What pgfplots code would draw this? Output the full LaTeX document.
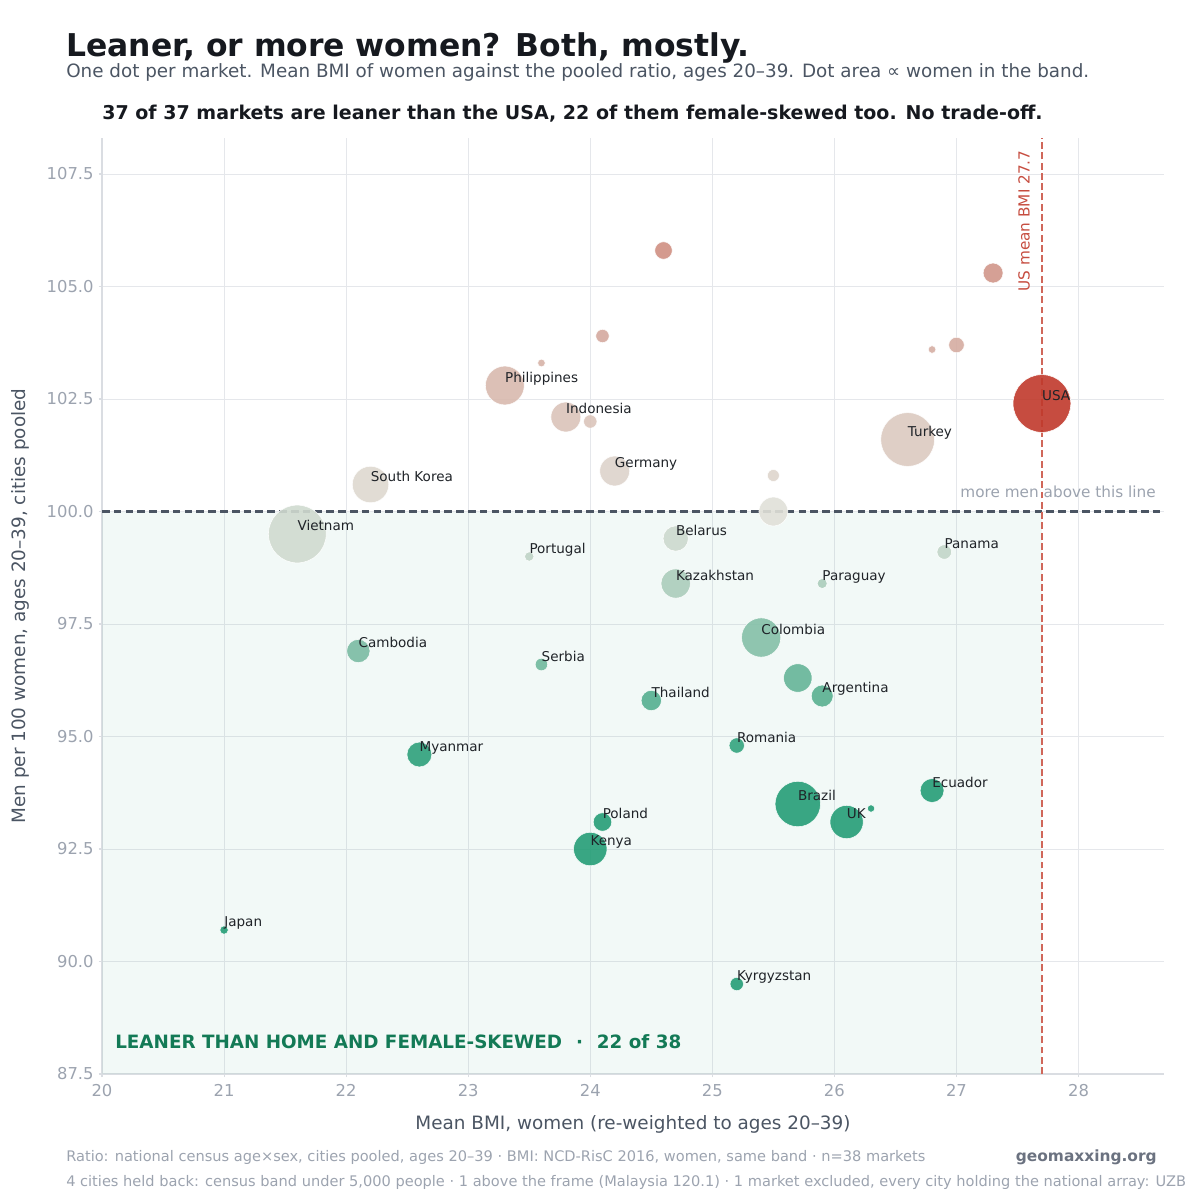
\documentclass[border=0pt]{standalone}
\usepackage{pgfplots}
\pgfplotsset{compat=1.18}
\usepackage{pgfplotstable}
\usepackage{fontspec}
\setmainfont{DejaVu Sans}

\definecolor{ink}{HTML}{16191F}
\definecolor{slate}{HTML}{4B5563}
\definecolor{muted}{HTML}{9CA3AF}
\definecolor{footbold}{HTML}{6B7280}
\definecolor{gridc}{HTML}{E5E7EB}
\definecolor{spine}{HTML}{DADDE2}
\definecolor{lbl}{HTML}{1F2328}
\definecolor{usred}{HTML}{C0392B}
\definecolor{usline}{HTML}{D0675A}
\definecolor{leangreen}{HTML}{2A9D78}
\definecolor{zonegreen}{HTML}{137A56}

% x = mean BMI of women, y = men per 100 women, r = dot radius (px at 1200 px)
\pgfplotstableread{
x    y     r    label
24.6 105.8 8.8  {}
27.3 105.3 10.0 {}
24.1 103.9 6.7  {}
23.6 103.3 3.8  {}
26.8 103.6 3.8  {}
27.0 103.7 7.8  {}
23.3 102.8 19.5 Philippines
23.8 102.1 15.0 Indonesia
24.0 102.0 6.7  {}
26.6 101.6 27.0 Turkey
24.2 100.9 15.0 Germany
25.5 100.8 6.0  {}
22.2 100.6 18.3 {South Korea}
25.5 100.0 14.5 {}
21.6 99.5  29.0 Vietnam
23.5 99.0  4.7  Portugal
24.7 99.4  12.7 Belarus
26.9 99.1  7.3  Panama
24.7 98.4  14.7 Kazakhstan
25.9 98.4  5.0  Paraguay
25.4 97.2  19.7 Colombia
22.1 96.9  11.7 Cambodia
23.6 96.6  6.3  Serbia
25.7 96.3  14.3 {}
25.9 95.9  11.0 Argentina
24.5 95.8  10.2 Thailand
25.2 94.8  7.7  Romania
22.6 94.6  12.5 Myanmar
26.8 93.8  12.0 Ecuador
25.7 93.5  22.8 Brazil
26.3 93.4  3.7  {}
26.1 93.1  16.7 UK
24.1 93.1  9.3  Poland
24.0 92.5  16.8 Kenya
21.0 90.7  4.2  Japan
25.2 89.5  6.7  Kyrgyzstan
}\markets

\pgfplotstableread{
x    y     r    label
27.7 102.4 29.0 USA
}\usa

\begin{document}
\begin{tikzpicture}
\path[use as bounding box] (0,0) rectangle (864bp,-864bp);

\begin{axis}[
  at={(73.44bp,-773.28bp)}, anchor=south west,
  scale only axis, width=764.64bp, height=673.92bp,
  xmin=20, xmax=28.7, ymin=87.5, ymax=108.3,
  xtick={20,...,28},
  ytick={87.5,90,92.5,95,97.5,100,102.5,105,107.5},
  axis lines*=left,
  axis line style={draw=spine, line width=0.8bp, -},
  tick align=outside, major tick length=2.5bp,
  tick style={draw=spine, line width=0.8bp},
  grid=major,
  major grid style={draw=gridc, line width=0.72bp},
  /pgf/number format/assume math mode=true,
  ticklabel style={font=\fontsize{11.8bp}{14bp}\selectfont, text=muted},
  xticklabel style={yshift=-1.5bp, /pgf/number format/.cd, fixed, precision=0},
  yticklabel style={/pgf/number format/.cd, fixed, fixed zerofill, precision=1},
  colormap={ratio}{rgb255(0pt)=(36,158,118) rgb255(68pt)=(36,158,118) rgb255(125pt)=(224,224,216) rgb255(185pt)=(206,140,127) rgb255(190pt)=(206,140,127)},
  point meta min=87.5, point meta max=106.5,
]
% zone: leaner than the USA and female-skewed
\fill[leangreen, opacity=0.06] (axis cs:20,87.5) rectangle (axis cs:27.7,100);
\draw[slate, line width=1.5bp, dash pattern=on 5.5bp off 3bp] (axis cs:20,100) -- (axis cs:28.7,100);
\draw[usline, line width=1.2bp, dash pattern=on 5bp off 2.4bp] (axis cs:27.7,87.5) -- (axis cs:27.7,108.3);

% dot area follows the number of women in the band; colour follows the ratio
\addplot[scatter, only marks, mark=*, point meta=explicit,
  scatter/use mapped color={draw=white, fill=mapped color},
  visualization depends on={0.72*\thisrow{r} \as \rad},
  scatter/@pre marker code/.append style={/tikz/mark size=\rad},
  line width=0.4bp, fill opacity=0.9, draw opacity=0.9]
  table[x=x, y=y, meta=y] {\markets};

\addplot[only marks, mark=*, mark size=20.88,
  mark options={draw=white, fill=usred, line width=0.4bp, fill opacity=0.9}]
  table[x=x, y=y] {\usa};

\addplot[draw=none, mark=none, nodes near coords, point meta=explicit symbolic,
  nodes near coords style={anchor=base west, inner sep=0pt, yshift=2.3bp,
    font=\fontsize{9.75bp}{11bp}\selectfont, text=lbl}]
  table[x=x, y=y, meta=label] {\markets};
\addplot[draw=none, mark=none, nodes near coords, point meta=explicit symbolic,
  nodes near coords style={anchor=base west, inner sep=0pt, yshift=2.3bp,
    font=\fontsize{9.75bp}{11bp}\selectfont, text=lbl}]
  table[x=x, y=y, meta=label] {\usa};
\end{axis}

\begin{scope}[x=0.72bp, y=-0.72bp]
\node[anchor=west, inner sep=0pt, text=ink, font=\fontsize{22.6bp}{26bp}\selectfont\bfseries] at (66,48) {Leaner, or more women? Both, mostly.};
\node[anchor=west, inner sep=0pt, text=slate, font=\fontsize{13.2bp}{16bp}\selectfont] at (66,72) {One dot per market. Mean BMI of women against the pooled ratio, ages 20–39. Dot area ∝ women in the band.};
\node[anchor=west, inner sep=0pt, text=ink, font=\fontsize{13.7bp}{16bp}\selectfont\bfseries] at (102,114) {37 of 37 markets are leaner than the USA, 22 of them female-skewed too. No trade-off.};

\node[anchor=east, inner sep=0pt, text=muted, font=\fontsize{11bp}{13bp}\selectfont] at (1156,492) {more men above this line};
\node[rotate=90, inner sep=0pt, text=usred!90, font=\fontsize{11bp}{13bp}\selectfont] at (1024,221) {US mean BMI 27.7};
\node[anchor=west, inner sep=0pt, text=zonegreen, font=\fontsize{13.2bp}{15bp}\selectfont\bfseries] at (115,1042) {LEANER THAN HOME AND FEMALE-SKEWED\hspace{10bp}·\hspace{10bp}22 of 38};

\node[inner sep=0pt, text=slate, font=\fontsize{13.25bp}{15bp}\selectfont] at (633,1124) {Mean BMI, women (re-weighted to ages 20–39)};
\node[rotate=90, inner sep=0pt, text=slate, font=\fontsize{13.25bp}{15bp}\selectfont] at (20,606) {Men per 100 women, ages 20–39, cities pooled};

\node[anchor=west, inner sep=0pt, text=muted, font=\fontsize{10.5bp}{12bp}\selectfont] at (66,1157) {Ratio: national census age×sex, cities pooled, ages 20–39 · BMI: NCD-RisC 2016, women, same band · n=38 markets};
\node[anchor=east, inner sep=0pt, text=footbold, font=\fontsize{11.1bp}{13bp}\selectfont\bfseries] at (1157,1157) {geomaxxing.org};
\node[anchor=west, inner sep=0pt, text=muted, font=\fontsize{10.5bp}{12bp}\selectfont] at (66,1182) {4 cities held back: census band under 5,000 people · 1 above the frame (Malaysia 120.1) · 1 market excluded, every city holding the national array: UZB};
\end{scope}
\end{tikzpicture}
\end{document}
